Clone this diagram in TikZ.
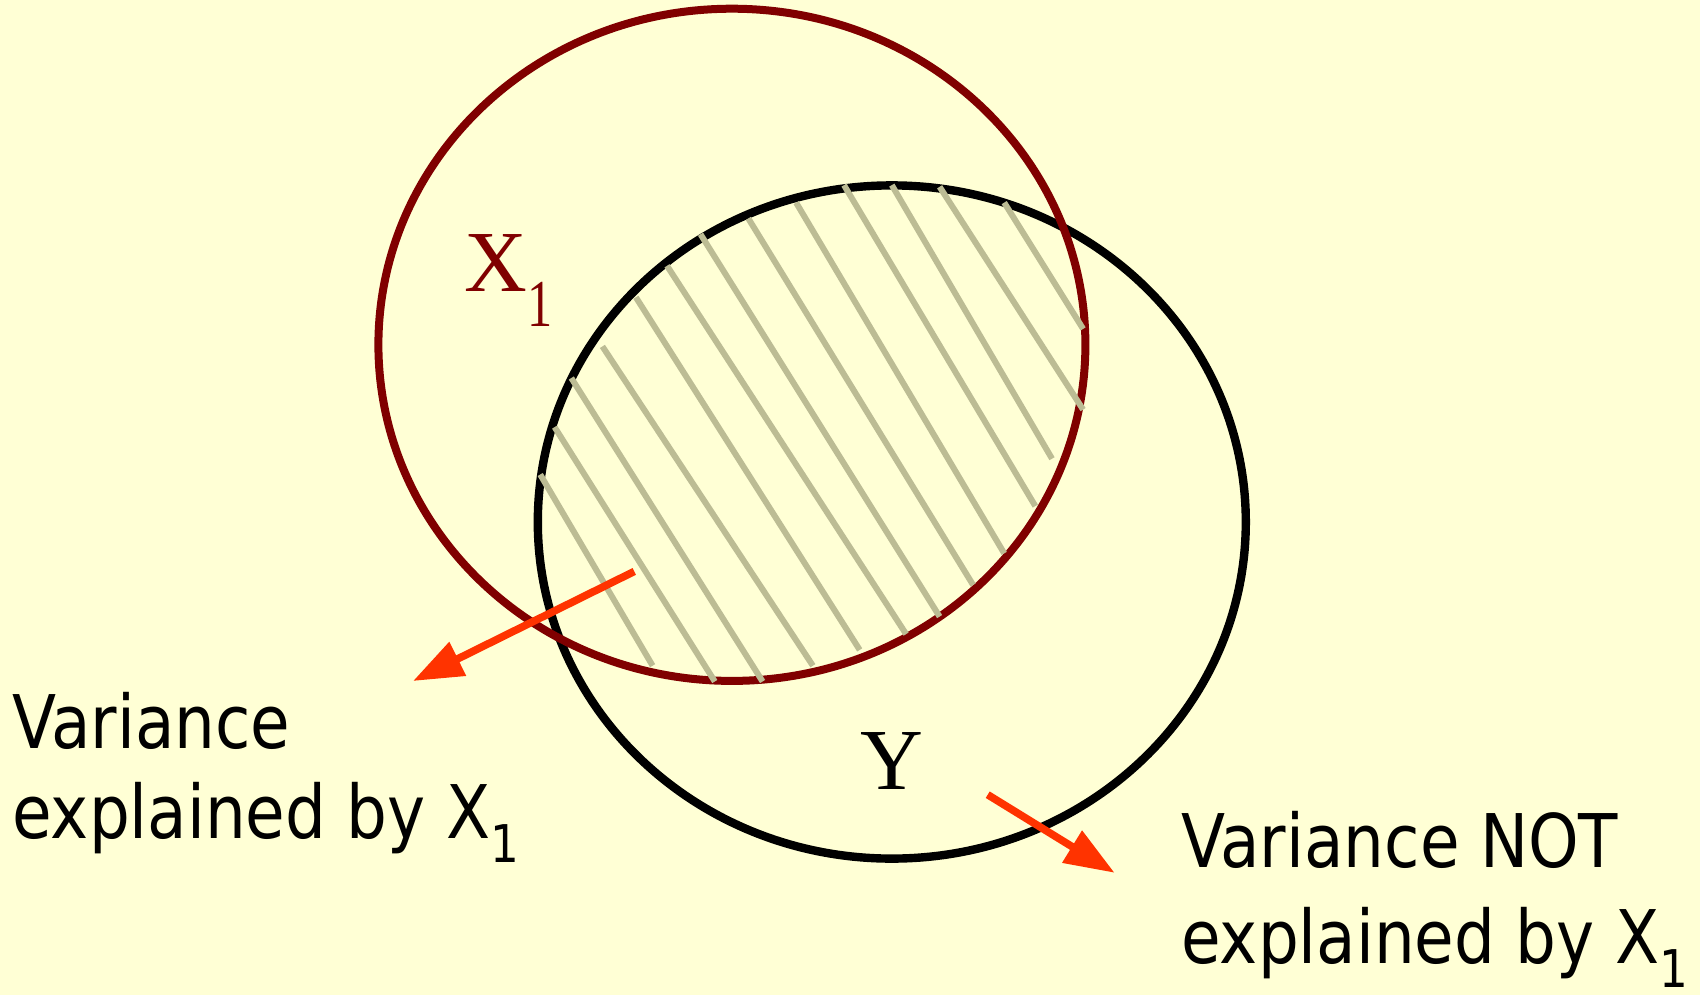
\documentclass[tikz,border=0pt]{standalone}
\usepackage{fontspec}
\usetikzlibrary{arrows.meta}
\newfontfamily\labfont[FakeStretch=0.87]{DejaVu Sans}
\newfontfamily\serfont{Liberation Serif}
\definecolor{bgc}{RGB}{255,255,213}
\definecolor{xred}{RGB}{128,0,0}
\definecolor{hatchc}{RGB}{188,188,148}
\definecolor{arrc}{RGB}{255,51,0}
\tikzset{
  xell/.style={draw=xred, line width=4pt},
  yell/.style={draw=black, line width=4.2pt},
  hatchline/.style={draw=hatchc, line width=3pt},
  callout/.style={draw=arrc, line width=3.8pt, -{Triangle[length=25pt,width=18pt]}},
  lab/.style={inner sep=0pt, anchor=base west, font=\labfont\fontsize{37}{37}\selectfont},
  serlab/.style={inner sep=0pt, anchor=base west, font=\serfont\fontsize{43.5}{43.5}\selectfont}
}
\newcommand{\sanssub}{\raisebox{-12pt}{\fontsize{26}{26}\selectfont 1}}
\begin{document}
\begin{tikzpicture}[x=0.5pt,y=-0.5pt]
\fill[bgc] (0,0) rectangle (1700,995);
\useasboundingbox (0,0) rectangle (1700,995);
% ellipses
\draw[yell] (891.8,522) ellipse [x radius=354, y radius=336.6];
\draw[xell] (731.9,344.8) ellipse [x radius=353.5, y radius=336.1];
% hatch lines
\foreach \ax/\ay/\bx/\by in {
  540.2/474.5/652.6/665.7,
  554.6/427.1/714.8/681.5,
  571.3/378.0/762.6/681.5,
  602.4/346.4/812.9/665.7,
  635.9/297.3/859.7/649.9,
  667.0/265.8/906.1/634.1,
  700.5/234.2/939.6/616.6,
  748.3/218.4/973.1/585.0,
  796.1/202.6/1004.2/553.4,
  844.0/185.1/1035.3/506.1,
  891.8/185.1/1052.0/458.7,
  939.6/186.8/1083.1/409.6,
  1004.2/202.6/1083.1/328.9}
  {\draw[hatchline] (\ax,\ay) -- (\bx,\by);}
% labels in circles
\node[serlab, text=xred] (x1) at (464,291) {X\raisebox{-17.5pt}{\scalebox{0.75}[1]{\fontsize{33.5}{33.5}\selectfont 1}}};
\node[serlab, anchor=base] (ylab) at (892,789) {Y};
% callout texts
\node[lab] (exa) at (12,748) {Variance};
\node[lab] (exb) at (12,838) {explained by X\sanssub};
\node[lab] (nea) at (1181,867) {Variance NOT};
\node[lab] (neb) at (1181,963) {explained by X\sanssub};
% arrows
\coordinate (a1s) at (634.3,571.4);
\coordinate (a1e) at (413,681);
\coordinate (a2s) at (987.7,794.7);
\coordinate (a2e) at (1114.6,872.8);
\draw[callout] (a1s) -- (a1e);
\draw[callout] (a2s) -- (a2e);
\end{tikzpicture}
\end{document}
